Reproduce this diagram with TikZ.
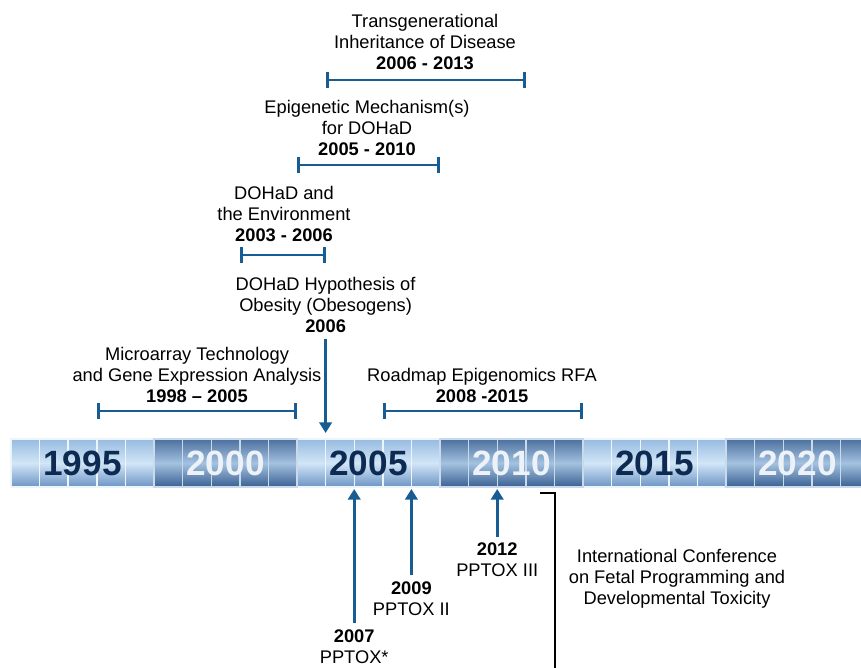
\documentclass[tikz,border=0pt]{standalone}
\usepackage{fontspec}
\setmainfont{Liberation Sans}
\usepackage{xcolor}
\usetikzlibrary{arrows.meta}

\definecolor{tlblue}{RGB}{24,92,148}
\definecolor{tlnavy}{RGB}{12,42,82}
\definecolor{tlpale}{RGB}{236,242,248}
\definecolor{ltop}{RGB}{150,186,224}
\definecolor{lmid}{RGB}{210,230,247}
\definecolor{lbot}{RGB}{108,148,196}
\definecolor{dtop}{RGB}{76,112,158}
\definecolor{dmid}{RGB}{164,194,224}
\definecolor{dbot}{RGB}{58,96,146}

% x position of a year on the bar
\newcommand{\yx}[1]{11+(#1-1995)*28.6}

\begin{document}
\begin{tikzpicture}[x=0.02cm, y=-0.02cm,
    lbl/.style={align=center, font=\fontsize{10.4}{12}\selectfont},
    yrlbl/.style={font=\fontsize{20}{24}\selectfont\bfseries},
    span/.style={tlblue, line width=1.7pt, {Bar[width=0.33cm]}-{Bar[width=0.33cm]}},
    evt/.style={tlblue, line width=1.7pt, -{Triangle[width=7pt,length=6pt]}},
    lcell/.style={top color=ltop, bottom color=lbot, middle color=lmid, draw=white!60!lmid, line width=0.8pt},
    dcell/.style={top color=dtop, bottom color=dbot, middle color=dmid, draw=dmid!60!white, line width=0.8pt}]
    \useasboundingbox (0,0) rectangle (861,668);

    % the time bar
    \begin{scope}
      \clip (0,0) rectangle (861,668);
      \foreach \g in {0,2,4}
        \foreach \c in {0,...,4}
          \path[lcell] ({11+(5*\g+\c)*28.6},439) rectangle +(28.6,48);
      \foreach \g in {1,3,5}
        \foreach \c in {0,...,4}
          \path[dcell] ({11+(5*\g+\c)*28.6},439) rectangle +(28.6,48);
    \end{scope}
    \foreach \y/\col in {1995/tlnavy,2000/tlpale,2005/tlnavy,2010/tlpale,2015/tlnavy,2020/tlpale}
      \node[yrlbl, text=\col] (yr\y) at ({\yx{\y}+71.5},463) {\y};

    \coordinate (bartop) at (0,433);
    \coordinate (barbot) at (0,489);

    % periods above the bar
    \node[lbl] (trans) at (425,42) {Transgenerational\\Inheritance of Disease\\\textbf{2006 - 2013}};
    \coordinate (trans0) at ({\yx{2006}},80);
    \coordinate (trans1) at ({\yx{2013}},80);
    \draw[span] (trans0) -- (trans1);

    \node[lbl] (epi) at (367,128) {Epigenetic Mechanism(s)\\for DOHaD\\\textbf{2005 - 2010}};
    \coordinate (epi0) at ({\yx{2005}},165);
    \coordinate (epi1) at ({\yx{2010}},165);
    \draw[span] (epi0) -- (epi1);

    \node[lbl] (env) at (284,214) {DOHaD and\\the Environment\\\textbf{2003 - 2006}};
    \coordinate (env0) at ({\yx{2003}},255);
    \coordinate (env1) at ({\yx{2006}},255);
    \draw[span] (env0) -- (env1);

    \node[lbl] (obes) at ({\yx{2006}},305) {DOHaD Hypothesis of\\Obesity (Obesogens)\\\textbf{2006}};
    \draw[evt] (obes.south) -- (obes.south |- bartop);

    \node[lbl] (micro) at (197,375) {Microarray Technology\\and Gene Expression Analysis\\\textbf{1998 -- 2005}};
    \coordinate (micro0) at ({\yx{1998}},411);
    \coordinate (micro1) at ({\yx{2005}},411);
    \draw[span] (micro0) -- (micro1);

    \node[lbl] (road) at (482,385.5) {Roadmap Epigenomics RFA\\\textbf{2008 -2015}};
    \coordinate (road0) at ({\yx{2008}},411);
    \coordinate (road1) at ({\yx{2015}},411);
    \draw[span] (road0) -- (road1);

    % PPTOX meetings below the bar
    \node[lbl] (pp1) at ({\yx{2007}},646.5) {\textbf{2007}\\PPTOX*};
    \node[lbl] (pp2) at ({\yx{2009}},598.5) {\textbf{2009}\\PPTOX II};
    \node[lbl] (pp3) at ({\yx{2012}},560) {\textbf{2012}\\PPTOX III};
    \draw[evt] (pp1.north) -- (pp1.north |- barbot);
    \draw[evt] (pp2.north) -- (pp2.north |- barbot);
    \draw[evt] (pp3.north) -- (pp3.north |- barbot);

    \draw[line width=1.3pt] (540,493) -- (555,493) -- (555,672);
    \node[lbl] (conf) at (677,579) {International Conference\\on Fetal Programming and\\Developmental Toxicity};
\end{tikzpicture}
\end{document}
